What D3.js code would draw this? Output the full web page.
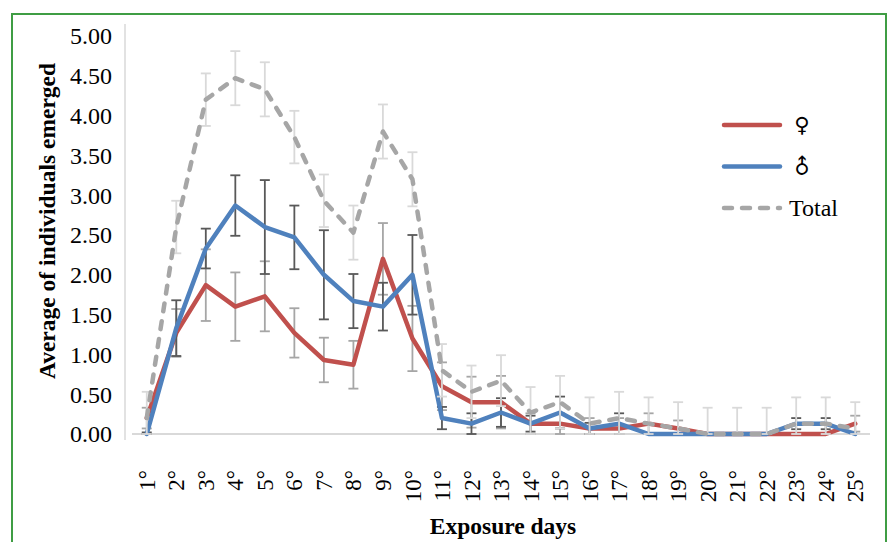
<!DOCTYPE html>
<html lang="en">
<head>
	<meta charset="utf-8" />
	<title>Emergence by exposure day</title>
	<script src="https://d3js.org/d3.v7.min.js"></script>
    <style>
        body {
            margin: 0;
            background: white;
        }
        svg {
            display: block;
            font-family: "Liberation Serif", "Times New Roman", serif;
        }
    </style>
</head>
<body>
	<script>
    // chart data
    let days = ["1°", "2°", "3°", "4°", "5°", "6°", "7°", "8°", "9°", "10°", "11°", "12°", "13°",
        "14°", "15°", "16°", "17°", "18°", "19°", "20°", "21°", "22°", "23°", "24°", "25°"];
    let female = [0.2, 1.27, 1.87, 1.6, 1.73, 1.27, 0.93, 0.87, 2.2, 1.2, 0.6, 0.4, 0.4,
        0.13, 0.13, 0.07, 0.07, 0.13, 0.07, 0, 0, 0, 0, 0, 0.13];
    let male = [0, 1.33, 2.33, 2.87, 2.6, 2.47, 2.0, 1.67, 1.6, 2.0, 0.2, 0.13, 0.27,
        0.13, 0.27, 0.07, 0.13, 0, 0, 0, 0, 0, 0.13, 0.13, 0];
    let total = [0.2, 2.6, 4.2, 4.47, 4.33, 3.73, 2.93, 2.53, 3.8, 3.2, 0.8, 0.53, 0.67,
        0.27, 0.4, 0.13, 0.2, 0.13, 0.07, 0, 0, 0, 0.13, 0.13, 0.07];
    let femaleErr = [0.13, 0.3, 0.45, 0.43, 0.44, 0.31, 0.28, 0.3, 0.45, 0.41, 0.3, 0.32, 0.33,
        0.13, 0.13, 0.13, 0.13, 0.13, 0.1, 0, 0, 0, 0, 0, 0.1];
    let maleErr = [0.02, 0.35, 0.25, 0.38, 0.59, 0.4, 0.56, 0.34, 0.3, 0.5, 0.14, 0.13, 0.18,
        0.1, 0.2, 0.07, 0.13, 0, 0, 0, 0, 0, 0.07, 0.07, 0];
    let totalErr = [0.33, 0.33, 0.33, 0.34, 0.34, 0.33, 0.33, 0.34, 0.34, 0.34, 0.33, 0.33, 0.32,
        0.32, 0.33, 0.33, 0.33, 0.33, 0.33, 0.33, 0.33, 0.33, 0.33, 0.33, 0.33];
    let yTicks = [0, 0.5, 1, 1.5, 2, 2.5, 3, 3.5, 4, 4.5, 5];

    let series = [
        { name: "♀", values: female, err: femaleErr, color: "#c0504d", errColor: "#a6a6a6", dash: null },
        { name: "♂", values: male, err: maleErr, color: "#4f81bd", errColor: "#595959", dash: null },
        { name: "Total", values: total, err: totalErr, color: "#a6a6a6", errColor: "#d9d9d9", dash: "8,10" }
    ];

    let svg = d3.select("body")
        .append("svg")
        .attr("width", 888)
        .attr("height", 542);

    // green frame
    svg.append("rect")
        .attr("x", 12)
        .attr("y", 14)
        .attr("width", 874)
        .attr("height", 560)
        .attr("fill", "none")
        .attr("stroke", "#3f9d44")
        .attr("stroke-width", 2);

    let x = d3.scaleBand()
        .domain(days)
        .range([132, 870]);

    let y = d3.scaleLinear()
        .domain([0, 5])
        .range([434, 36]);

    function cx(i) {
        return x(days[i]) + x.bandwidth() / 2;
    }

    // value axis line and baseline
    svg.append("line")
        .attr("x1", 125).attr("x2", 125)
        .attr("y1", 24).attr("y2", 440)
        .attr("stroke", "#d9d9d9")
        .attr("stroke-width", 1.5);

    svg.append("line")
        .attr("x1", 132).attr("x2", 870)
        .attr("y1", y(0)).attr("y2", y(0))
        .attr("stroke", "#d9d9d9")
        .attr("stroke-width", 2);

    // y tick labels
    svg.selectAll("text.ytick")
        .data(yTicks)
        .enter()
        .append("text")
        .attr("class", "ytick")
        .attr("x", 112)
        .attr("y", function(d) { return y(d); })
        .attr("dy", "0.35em")
        .attr("text-anchor", "end")
        .attr("font-size", 24)
        .text(function(d) { return d3.format(".2f")(d); });

    // x tick labels, rotated
    svg.selectAll("text.xtick")
        .data(days)
        .enter()
        .append("text")
        .attr("class", "xtick")
        .attr("transform", function(d, i) { return "translate(" + cx(i) + ",470) rotate(-90)"; })
        .attr("dy", "0.35em")
        .attr("text-anchor", "end")
        .attr("font-size", 23)
        .text(function(d) { return d; });

    // axis titles
    svg.append("text")
        .attr("transform", "translate(47,221) rotate(-90)")
        .attr("dy", "0.35em")
        .attr("text-anchor", "middle")
        .attr("font-size", 23.5)
        .attr("font-weight", "bold")
        .text("Average of individuals emerged");

    svg.append("text")
        .attr("x", 503)
        .attr("y", 534)
        .attr("text-anchor", "middle")
        .attr("font-size", 23.5)
        .attr("font-weight", "bold")
        .text("Exposure days");

    let line = d3.line()
        .x(function(d, i) { return cx(i); })
        .y(function(d) { return y(d); });

    series.forEach(function(s) {
        // error bars for this series
        let bars = svg.append("g");
        s.values.forEach(function(v, i) {
            let e = s.err[i];
            if (e <= 0) return;
            let lo = Math.max(0, v - e);
            let hi = v + e;
            let px = cx(i);
            bars.append("line")
                .attr("x1", px).attr("x2", px)
                .attr("y1", y(lo)).attr("y2", y(hi))
                .attr("stroke", s.errColor).attr("stroke-width", 1.8);
            [lo, hi].forEach(function(t) {
                bars.append("line")
                    .attr("x1", px - 5).attr("x2", px + 5)
                    .attr("y1", y(t)).attr("y2", y(t))
                    .attr("stroke", s.errColor).attr("stroke-width", 1.8);
            });
        });

        svg.append("path")
            .datum(s.values)
            .attr("d", line)
            .attr("fill", "none")
            .attr("stroke", s.color)
            .attr("stroke-width", 4.5)
            .attr("stroke-linejoin", "round")
            .attr("stroke-linecap", "round")
            .attr("stroke-dasharray", s.dash);
    });

    // legend
    let legend = svg.selectAll("g.legend")
        .data(series)
        .enter()
        .append("g")
        .attr("class", "legend")
        .attr("transform", function(d, i) { return "translate(724," + (125 + i * 41.5) + ")"; });

    legend.append("line")
        .attr("x1", 0).attr("x2", 56)
        .attr("stroke", function(d) { return d.color; })
        .attr("stroke-width", 4.5)
        .attr("stroke-linecap", "round")
        .attr("stroke-dasharray", function(d) { return d.dash; });

    legend.append("text")
        .attr("x", function(d) { return d.name == "Total" ? 65 : 78; })
        .attr("dy", "0.35em")
        .attr("text-anchor", function(d) { return d.name == "Total" ? "start" : "middle"; })
        .attr("font-size", function(d) { return d.name == "Total" ? 24 : 21; })
        .attr("font-family", function(d) { return d.name == "Total" ? null : "DejaVu Sans"; })
        .attr("transform", function(d) { return d.name == "♂" ? "rotate(-45,78,0)" : null; })
        .text(function(d) { return d.name; });
	</script>
</body>
</html>
